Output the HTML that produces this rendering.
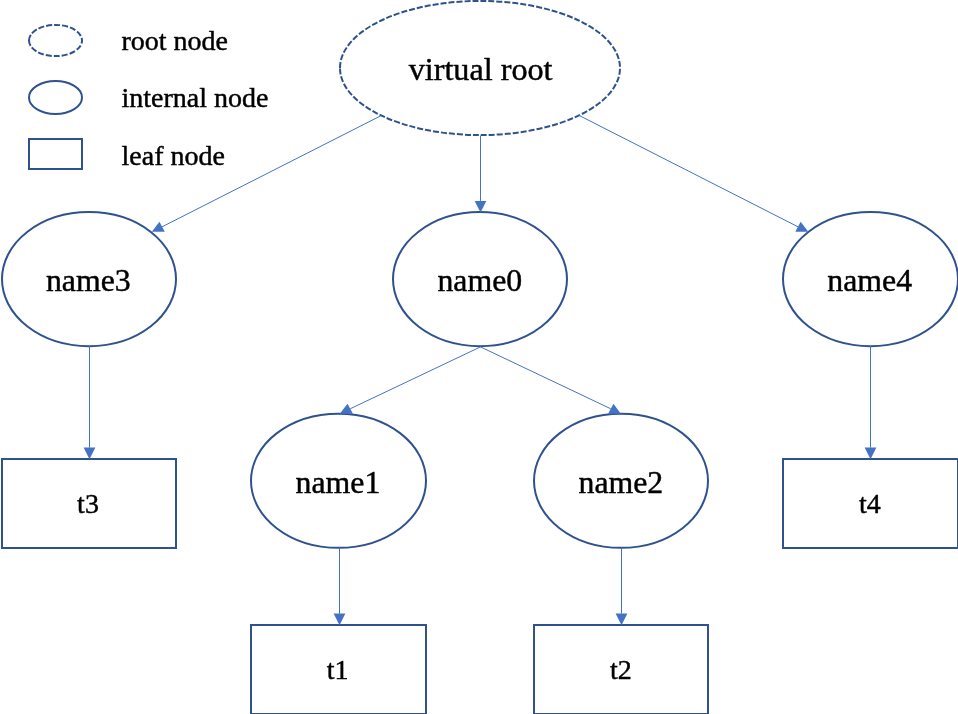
<!DOCTYPE html>
<html><head><meta charset="utf-8"><title>tree</title>
<style>
html,body{margin:0;padding:0;background:#fff;}
body{width:958px;height:714px;overflow:hidden;}
svg{display:block;will-change:transform;}
text{font-family:"Liberation Serif",serif;fill:#000;stroke:#000;stroke-width:0.45px;stroke-linejoin:round;}
</style></head><body>
<svg width="958" height="714" viewBox="0 0 958 714">
<g id="shapes">
<path d="M340.00,68 A140,67 0 1 1 620.00,68 A140,67 0 1 1 340.00,68" fill="#fff" stroke="#2F528F" stroke-width="2.0" stroke-dasharray="6 2"/>
<ellipse cx="89" cy="279.1" rx="87" ry="67.05" fill="#fff" stroke="#2F528F" stroke-width="2.0"/>
<ellipse cx="480" cy="279.1" rx="87" ry="67.05" fill="#fff" stroke="#2F528F" stroke-width="2.0"/>
<ellipse cx="870.5" cy="279.1" rx="87.5" ry="67.05" fill="#fff" stroke="#2F528F" stroke-width="2.0"/>
<ellipse cx="338.5" cy="480.8" rx="87.5" ry="67.05" fill="#fff" stroke="#2F528F" stroke-width="2.0"/>
<ellipse cx="621" cy="480.8" rx="87" ry="67.05" fill="#fff" stroke="#2F528F" stroke-width="2.0"/>
<rect x="2" y="459" width="174.00" height="89.00" fill="#fff" stroke="#2F528F" stroke-width="2.0"/>
<rect x="783" y="459" width="175.00" height="89.00" fill="#fff" stroke="#2F528F" stroke-width="2.0"/>
<rect x="251" y="625" width="175.00" height="89.00" fill="#fff" stroke="#2F528F" stroke-width="2.0"/>
<rect x="534" y="625" width="174.00" height="89.00" fill="#fff" stroke="#2F528F" stroke-width="2.0"/>
<path d="M29.00,40.5 A26.5,15.6 0 1 1 82.00,40.5 A26.5,15.6 0 1 1 29.00,40.5" fill="#fff" stroke="#2F528F" stroke-width="2.0" stroke-dasharray="6 2"/>
<ellipse cx="55.5" cy="97.45" rx="26.5" ry="16.5" fill="#fff" stroke="#2F528F" stroke-width="2.0"/>
<rect x="29" y="139" width="53.00" height="30.00" fill="#fff" stroke="#2F528F" stroke-width="2.0"/>
</g>
<g id="arrows">
<line x1="381" y1="115.7" x2="162.13" y2="226.78" stroke="#4472C4" stroke-width="1"/><polygon points="151.8,231.75 159.46,221.8 164.8,231.75" fill="#4472C4"/>
<line x1="480.5" y1="135.5" x2="480.50" y2="200.90" stroke="#4472C4" stroke-width="1"/><polygon points="480.50,212.60 474.65,200.90 486.35,200.90" fill="#4472C4"/>
<line x1="579" y1="115.4" x2="797.97" y2="226.78" stroke="#4472C4" stroke-width="1"/><polygon points="808.3,231.75 800.64,221.8 795.3,231.75" fill="#4472C4"/>
<line x1="89.5" y1="346" x2="89.50" y2="447.60" stroke="#4472C4" stroke-width="1"/><polygon points="89.50,459.30 83.65,447.60 95.35,447.60" fill="#4472C4"/>
<line x1="870.5" y1="346" x2="870.50" y2="447.60" stroke="#4472C4" stroke-width="1"/><polygon points="870.50,459.30 864.65,447.60 876.35,447.60" fill="#4472C4"/>
<line x1="480.5" y1="346.9" x2="350.23" y2="408.77" stroke="#4472C4" stroke-width="1"/><polygon points="339.8,413.75 347.5,403.8 352.96,413.75" fill="#4472C4"/>
<line x1="480.5" y1="346.9" x2="610.78" y2="408.77" stroke="#4472C4" stroke-width="1"/><polygon points="620.8,413.75 613.45,403.8 608.1,413.75" fill="#4472C4"/>
<line x1="339.5" y1="547.6" x2="339.50" y2="613.60" stroke="#4472C4" stroke-width="1"/><polygon points="339.50,625.30 333.65,613.60 345.35,613.60" fill="#4472C4"/>
<line x1="621.5" y1="547.6" x2="621.50" y2="613.60" stroke="#4472C4" stroke-width="1"/><polygon points="621.50,625.30 615.65,613.60 627.35,613.60" fill="#4472C4"/>
</g>
<g id="labels">
<text x="480.6" y="80" font-size="32.2" text-anchor="middle">virtual root</text>
<text x="88.3" y="291" font-size="31.8" text-anchor="middle">name3</text>
<text x="479.8" y="291" font-size="31.8" text-anchor="middle">name0</text>
<text x="869.7" y="291" font-size="31.8" text-anchor="middle">name4</text>
<text x="338" y="492.7" font-size="31.8" text-anchor="middle">name1</text>
<text x="620.9" y="492.7" font-size="31.8" text-anchor="middle">name2</text>
<text x="88.0" y="513.3" font-size="28" text-anchor="middle">t3</text>
<text x="869.8" y="513.3" font-size="28" text-anchor="middle">t4</text>
<text x="337.7" y="679.15" font-size="28" text-anchor="middle">t1</text>
<text x="620.8" y="679.2" font-size="28" text-anchor="middle">t2</text>
<text x="121.5" y="49.5" font-size="28" text-anchor="start">root node</text>
<text x="121.5" y="106.5" font-size="28" text-anchor="start">internal node</text>
<text x="121.5" y="164.5" font-size="28" text-anchor="start">leaf node</text>
</g>
</svg>
</body></html>
